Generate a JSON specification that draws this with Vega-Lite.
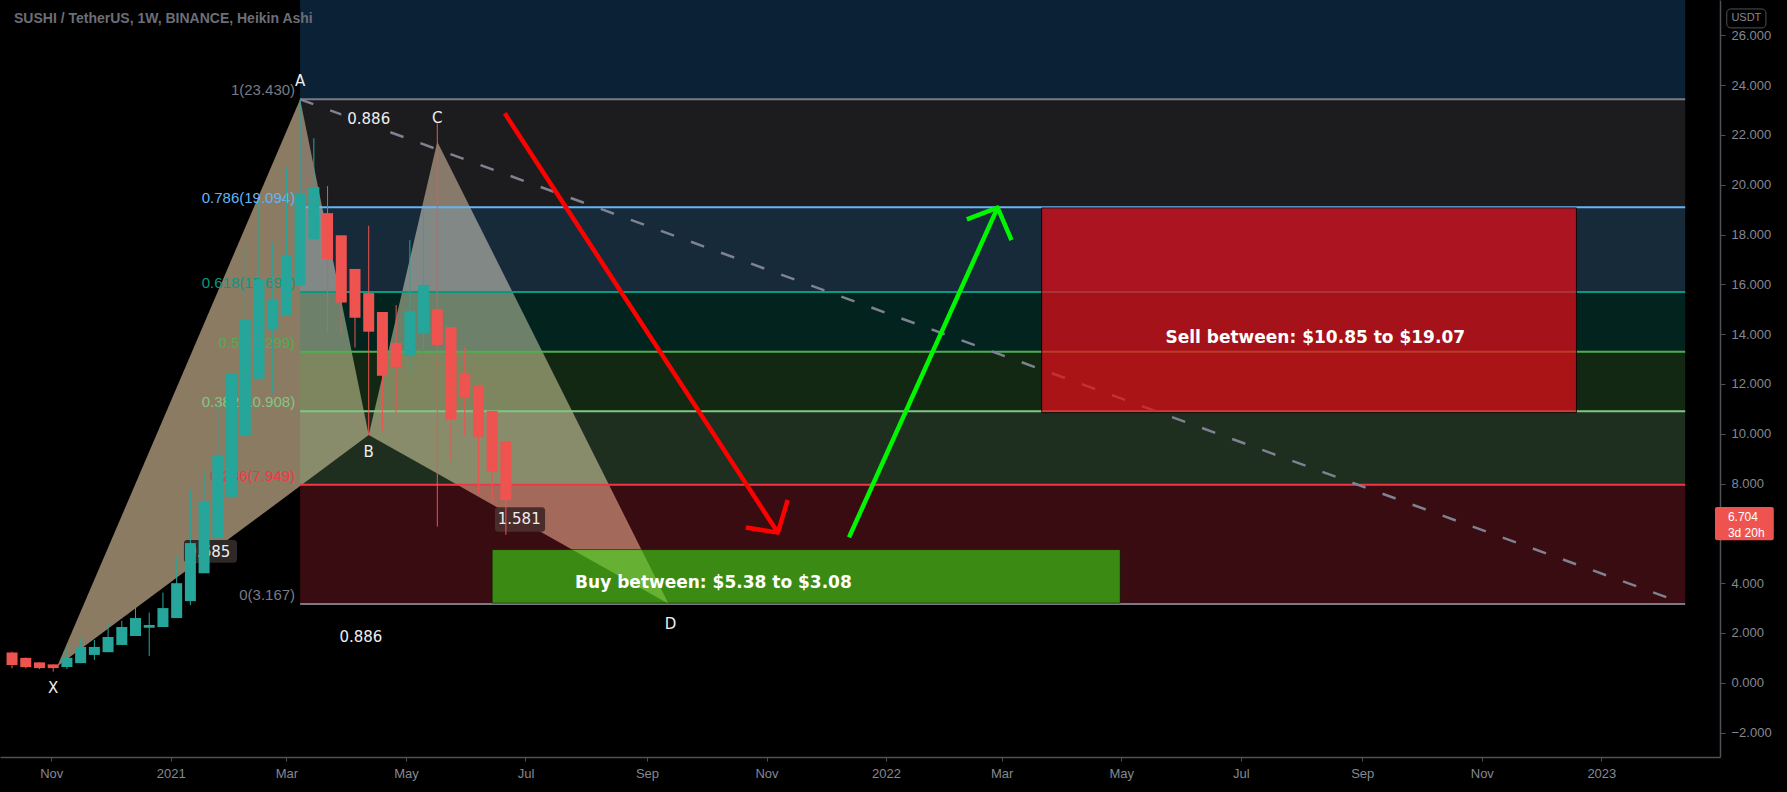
{
  "$schema": "https://vega.github.io/schema/vega-lite/v6.json",
  "width": 1720,
  "height": 757,
  "autosize": {"type": "none"},
  "padding": {"left": 0, "top": 0, "right": 67, "bottom": 35},
  "background": "#000000",
  "config": {
    "view": {"stroke": null},
    "axis": {"grid": false, "labelFont": "Liberation Sans", "labelFontSize": 13, "labelColor": "#858892", "domainColor": "#4f5058", "tickColor": "#4f5058"},
    "text": {"font": "Liberation Sans"}
  },
  "datasets": {
    "candles": [
      {"date": "2020-10-12", "open": 1.22, "close": 0.71, "high": 1.25, "low": 0.58},
      {"date": "2020-10-19", "open": 1.00, "close": 0.63, "high": 1.02, "low": 0.58},
      {"date": "2020-10-26", "open": 0.82, "close": 0.59, "high": 0.82, "low": 0.55},
      {"date": "2020-11-02", "open": 0.74, "close": 0.59, "high": 0.74, "low": 0.45},
      {"date": "2020-11-09", "open": 0.63, "close": 1.01, "high": 1.43, "low": 0.55},
      {"date": "2020-11-16", "open": 0.79, "close": 1.44, "high": 1.79, "low": 0.79},
      {"date": "2020-11-23", "open": 1.12, "close": 1.44, "high": 1.72, "low": 0.92},
      {"date": "2020-11-30", "open": 1.23, "close": 1.84, "high": 2.41, "low": 1.23},
      {"date": "2020-12-07", "open": 1.52, "close": 2.24, "high": 2.49, "low": 1.52},
      {"date": "2020-12-14", "open": 1.88, "close": 2.60, "high": 3.06, "low": 1.88},
      {"date": "2020-12-21", "open": 2.21, "close": 2.32, "high": 2.82, "low": 1.08},
      {"date": "2020-12-28", "open": 2.24, "close": 3.00, "high": 3.62, "low": 2.24},
      {"date": "2021-01-04", "open": 2.60, "close": 4.00, "high": 5.06, "low": 2.60},
      {"date": "2021-01-11", "open": 3.28, "close": 5.61, "high": 7.78, "low": 3.12},
      {"date": "2021-01-18", "open": 4.40, "close": 7.27, "high": 8.48, "low": 4.40},
      {"date": "2021-01-25", "open": 5.81, "close": 9.15, "high": 11.2, "low": 5.81},
      {"date": "2021-02-01", "open": 7.47, "close": 12.40, "high": 16.58, "low": 7.47},
      {"date": "2021-02-08", "open": 9.94, "close": 14.57, "high": 17.54, "low": 9.94},
      {"date": "2021-02-15", "open": 12.21, "close": 16.18, "high": 19.39, "low": 12.21},
      {"date": "2021-02-22", "open": 14.17, "close": 15.40, "high": 17.68, "low": 11.59},
      {"date": "2021-03-01", "open": 14.77, "close": 17.14, "high": 20.69, "low": 14.77},
      {"date": "2021-03-08", "open": 15.95, "close": 19.66, "high": 23.43, "low": 15.95},
      {"date": "2021-03-15", "open": 17.81, "close": 19.91, "high": 21.87, "low": 17.81},
      {"date": "2021-03-22", "open": 18.86, "close": 17.01, "high": 19.95, "low": 14.04},
      {"date": "2021-03-29", "open": 17.97, "close": 15.27, "high": 17.97, "low": 14.04},
      {"date": "2021-04-05", "open": 16.62, "close": 14.66, "high": 16.62, "low": 13.46},
      {"date": "2021-04-12", "open": 15.65, "close": 14.10, "high": 18.35, "low": 9.95},
      {"date": "2021-04-19", "open": 14.89, "close": 12.33, "high": 14.89, "low": 10.13},
      {"date": "2021-04-26", "open": 13.65, "close": 12.68, "high": 15.17, "low": 10.82},
      {"date": "2021-05-03", "open": 13.14, "close": 14.92, "high": 17.78, "low": 12.43},
      {"date": "2021-05-10", "open": 14.02, "close": 15.98, "high": 19.03, "low": 12.76},
      {"date": "2021-05-17", "open": 15.00, "close": 13.57, "high": 22.47, "low": 6.27},
      {"date": "2021-05-24", "open": 14.28, "close": 10.57, "high": 14.28, "low": 8.88},
      {"date": "2021-05-31", "open": 12.43, "close": 11.45, "high": 13.47, "low": 9.95},
      {"date": "2021-06-07", "open": 11.95, "close": 9.88, "high": 11.95, "low": 7.61},
      {"date": "2021-06-14", "open": 10.92, "close": 8.48, "high": 10.92, "low": 7.27},
      {"date": "2021-06-21", "open": 9.71, "close": 7.34, "high": 9.71, "low": 5.94}
    ],
    "fib": [
      {"level": "1", "price": 23.43, "lo": 19.094, "label": "1(23.430)", "start": "2021-03-08", "end": "2023-02-12T19:00:00Z"},
      {"level": "0.786", "price": 19.094, "lo": 15.69, "label": "0.786(19.094)", "start": "2021-03-08", "end": "2023-02-12T19:00:00Z"},
      {"level": "0.618", "price": 15.69, "lo": 13.299, "label": "0.618(15.690)", "start": "2021-03-08", "end": "2023-02-12T19:00:00Z"},
      {"level": "0.5", "price": 13.299, "lo": 10.908, "label": "0.5(13.299)", "start": "2021-03-08", "end": "2023-02-12T19:00:00Z"},
      {"level": "0.382", "price": 10.908, "lo": 7.949, "label": "0.382(10.908)", "start": "2021-03-08", "end": "2023-02-12T19:00:00Z"},
      {"level": "0.236", "price": 7.949, "lo": 3.167, "label": "0.236(7.949)", "start": "2021-03-08", "end": "2023-02-12T19:00:00Z"},
      {"level": "0", "price": 3.167, "lo": null, "label": "0(3.167)", "start": "2021-03-08", "end": "2023-02-12T19:00:00Z"}
    ],
    "pattern": [
      {"tri": "XAB", "date": "2020-11-04", "top": 0.65, "bottom": 0.65},
      {"tri": "XAB", "date": "2021-03-08", "top": 23.43, "bottom": 7.90},
      {"tri": "XAB", "date": "2021-04-12", "top": 9.95, "bottom": 9.95},
      {"tri": "BCD", "date": "2021-04-12", "top": 9.95, "bottom": 9.95},
      {"tri": "BCD", "date": "2021-05-17", "top": 21.73, "bottom": 8.40},
      {"tri": "BCD", "date": "2021-09-12", "top": 3.17, "bottom": 3.17}
    ],
    "boxes": [
      {"box": "t886", "start": "2021-03-29T00:00:00Z", "end": "2021-04-25T08:00:00Z", "lo": 22.2, "hi": 23.08},
      {"box": "r685", "start": "2021-01-07T17:00:00Z", "end": "2021-02-03T19:00:00Z", "lo": 4.82, "hi": 5.73},
      {"box": "r1581", "start": "2021-06-15T10:00:00Z", "end": "2021-07-11T00:00:00Z", "lo": 6.07, "hi": 7.05}
    ],
    "plabels": [
      {"text": "X", "date": "2020-11-02", "price": -0.22},
      {"text": "A", "date": "2021-03-08", "price": 24.17},
      {"text": "B", "date": "2021-04-12", "price": 9.28},
      {"text": "C", "date": "2021-05-17", "price": 22.67},
      {"text": "D", "date": "2021-09-13", "price": 2.36},
      {"text": "0.886", "date": "2021-04-12", "price": 22.64},
      {"text": "0.886", "date": "2021-04-08", "price": 1.84},
      {"text": "0.685", "date": "2021-01-20T10:00:00Z", "price": 5.27},
      {"text": "1.581", "date": "2021-06-27T19:00:00Z", "price": 6.58}
    ],
    "arrows": [
      {"arrow": "down", "part": "shaft", "seq": 1, "date": "2021-06-20T10:00:00Z", "price": 22.87},
      {"arrow": "down", "part": "shaft", "seq": 2, "date": "2021-11-06T19:00:00Z", "price": 6.03},
      {"arrow": "down", "part": "head", "seq": 1, "date": "2021-10-21T10:00:00Z", "price": 6.24},
      {"arrow": "down", "part": "head", "seq": 2, "date": "2021-11-06T19:00:00Z", "price": 6.03},
      {"arrow": "down", "part": "head", "seq": 3, "date": "2021-11-11T19:00:00Z", "price": 7.34},
      {"arrow": "up", "part": "shaft", "seq": 1, "date": "2021-12-13T02:00:00Z", "price": 5.84},
      {"arrow": "up", "part": "shaft", "seq": 2, "date": "2022-02-26T22:00:00Z", "price": 19.08},
      {"arrow": "up", "part": "head", "seq": 1, "date": "2022-02-11T05:00:00Z", "price": 18.61},
      {"arrow": "up", "part": "head", "seq": 2, "date": "2022-02-26T22:00:00Z", "price": 19.08},
      {"arrow": "up", "part": "head", "seq": 3, "date": "2022-03-06T00:00:00Z", "price": 17.78}
    ]
  },
  "layer": [
    {
      "data": {"values": [{"start": "2021-03-08", "end": "2023-02-12T19:00:00Z", "lo": 23.43, "hi": 28.94}]},
      "mark": {"type": "rect", "color": "#0a2136", "clip": true},
      "encoding": {
        "x": {
          "field": "start", "type": "temporal", "title": null,
          "scale": {"type": "utc", "domain": [{"year": 2020, "month": 10, "date": 8, "hours": 9, "minutes": 36, "utc": true}, {"year": 2023, "month": 2, "date": 28, "utc": true}]},
          "axis": {
            "orient": "bottom",
            "values": [
              {"year": 2020, "month": 11, "date": 1, "utc": true},
              {"year": 2021, "month": 1, "date": 1, "utc": true},
              {"year": 2021, "month": 3, "date": 1, "utc": true},
              {"year": 2021, "month": 5, "date": 1, "utc": true},
              {"year": 2021, "month": 7, "date": 1, "utc": true},
              {"year": 2021, "month": 9, "date": 1, "utc": true},
              {"year": 2021, "month": 11, "date": 1, "utc": true},
              {"year": 2022, "month": 1, "date": 1, "utc": true},
              {"year": 2022, "month": 3, "date": 1, "utc": true},
              {"year": 2022, "month": 5, "date": 1, "utc": true},
              {"year": 2022, "month": 7, "date": 1, "utc": true},
              {"year": 2022, "month": 9, "date": 1, "utc": true},
              {"year": 2022, "month": 11, "date": 1, "utc": true},
              {"year": 2023, "month": 1, "date": 1, "utc": true}
            ],
            "labelExpr": "utcmonth(datum.value) == 0 ? utcFormat(datum.value, '%Y') : utcFormat(datum.value, '%b')",
            "tickSize": 4, "labelPadding": 6, "labelOverlap": false, "labelFlush": false, "domainWidth": 1.5
          }
        },
        "x2": {"field": "end", "title": null},
        "y": {
          "field": "lo", "type": "quantitative", "title": null,
          "scale": {"domain": [-2.98, 27.42], "nice": false, "zero": false},
          "axis": {"orient": "right", "values": [-2, 0, 2, 4, 8, 10, 12, 14, 16, 18, 20, 22, 24, 26], "format": ".3f", "tickSize": 5, "labelPadding": 6, "labelFlush": false, "domainWidth": 1.5}
        },
        "y2": {"field": "hi", "title": null}
      }
    },
    {
      "data": {"name": "pattern"},
      "mark": {"type": "area", "color": "#8c7b63"},
      "encoding": {
        "x": {"field": "date", "type": "temporal", "title": null},
        "y": {"field": "top", "type": "quantitative", "stack": null, "title": null},
        "y2": {"field": "bottom", "title": null},
        "detail": {"field": "tri", "type": "nominal"}
      }
    },
    {
      "data": {"name": "fib"},
      "transform": [{"filter": "datum.lo != null"}],
      "mark": {"type": "rect", "fillOpacity": 0.23},
      "encoding": {
        "x": {"field": "start", "type": "temporal", "title": null},
        "x2": {"field": "end", "title": null},
        "y": {"field": "lo", "type": "quantitative", "title": null},
        "y2": {"field": "price", "title": null},
        "color": {"field": "level", "type": "nominal", "legend": null,
          "scale": {"domain": ["1", "0.786", "0.618", "0.5", "0.382", "0.236", "0"], "range": ["#787b86", "#64b5f6", "#089981", "#4caf50", "#81c784", "#f23645", "#787b86"]}}
      }
    },
    {
      "data": {"name": "fib"},
      "mark": {"type": "rule", "strokeWidth": 2},
      "encoding": {
        "x": {"field": "start", "type": "temporal", "title": null},
        "x2": {"field": "end", "title": null},
        "y": {"field": "price", "type": "quantitative", "title": null},
        "color": {"field": "level", "type": "nominal", "legend": null}
      }
    },
    {
      "data": {"name": "fib"},
      "mark": {"type": "text", "align": "right", "baseline": "alphabetic", "dx": -5, "dy": -4, "fontSize": 15},
      "encoding": {
        "x": {"field": "start", "type": "temporal", "title": null},
        "y": {"field": "price", "type": "quantitative", "title": null},
        "text": {"field": "label"},
        "color": {"field": "level", "type": "nominal", "legend": null}
      }
    },
    {
      "data": {"values": [{"date": "2021-03-08", "price": 23.43}, {"date": "2023-02-08", "price": 3.3}]},
      "mark": {"type": "line", "color": "#7f8290", "strokeWidth": 2.5, "strokeDash": [14, 18]},
      "encoding": {
        "x": {"field": "date", "type": "temporal", "title": null},
        "y": {"field": "price", "type": "quantitative", "title": null}
      }
    },
    {
      "data": {"name": "boxes"},
      "mark": {"type": "rect", "cornerRadius": 3},
      "encoding": {
        "x": {"field": "start", "type": "temporal", "title": null},
        "x2": {"field": "end", "title": null},
        "y": {"field": "lo", "type": "quantitative", "title": null},
        "y2": {"field": "hi", "title": null},
        "fill": {"field": "box", "type": "nominal", "legend": null,
          "scale": {"domain": ["t886", "r685", "r1581"], "range": ["#1c1c1f", "#2e2926", "#4a2d2a"]}}
      }
    },
    {
      "data": {"name": "plabels"},
      "mark": {"type": "text", "color": "#eeeeee", "font": "DejaVu Sans", "fontSize": 15, "align": "center", "baseline": "middle"},
      "encoding": {
        "x": {"field": "date", "type": "temporal", "title": null},
        "y": {"field": "price", "type": "quantitative", "title": null},
        "text": {"field": "text"}
      }
    },
    {
      "data": {"name": "candles"},
      "mark": {"type": "rule", "strokeWidth": 1},
      "encoding": {
        "x": {"field": "date", "type": "temporal", "title": null},
        "y": {"field": "low", "type": "quantitative", "title": null},
        "y2": {"field": "high", "title": null},
        "color": {"condition": {"test": "datum.close >= datum.open", "value": "#26a69a"}, "value": "#ef5350"}
      }
    },
    {
      "data": {"name": "candles"},
      "mark": {"type": "bar", "width": 11},
      "encoding": {
        "x": {"field": "date", "type": "temporal", "title": null},
        "y": {"field": "open", "type": "quantitative", "title": null},
        "y2": {"field": "close", "title": null},
        "color": {"condition": {"test": "datum.close >= datum.open", "value": "#26a69a"}, "value": "#ef5350"}
      }
    },
    {
      "data": {"values": [{"start": "2021-06-14", "end": "2022-04-30T12:00:00Z", "lo": 3.2, "hi": 5.35}]},
      "mark": {"type": "rect", "fill": "#3de018", "fillOpacity": 0.6, "stroke": "#000000", "strokeOpacity": 0.5, "strokeWidth": 1},
      "encoding": {
        "x": {"field": "start", "type": "temporal", "title": null},
        "x2": {"field": "end", "title": null},
        "y": {"field": "lo", "type": "quantitative", "title": null},
        "y2": {"field": "hi", "title": null}
      }
    },
    {
      "data": {"values": [{"start": "2022-03-21T10:00:00Z", "end": "2022-12-19T07:00:00Z", "lo": 10.85, "hi": 19.07}]},
      "mark": {"type": "rect", "fill": "#e60c19", "fillOpacity": 0.72, "stroke": "#000000", "strokeOpacity": 0.8, "strokeWidth": 1},
      "encoding": {
        "x": {"field": "start", "type": "temporal", "title": null},
        "x2": {"field": "end", "title": null},
        "y": {"field": "lo", "type": "quantitative", "title": null},
        "y2": {"field": "hi", "title": null}
      }
    },
    {
      "data": {"values": [
        {"text": "Buy between: $5.38 to $3.08", "date": "2021-10-04T22:00:00Z", "price": 3.99},
        {"text": "Sell between: $10.85 to $19.07", "date": "2022-08-08T00:00:00Z", "price": 13.83}
      ]},
      "mark": {"type": "text", "color": "#ffffff", "font": "DejaVu Sans", "fontSize": 17, "fontWeight": "bold", "align": "center", "baseline": "middle"},
      "encoding": {
        "x": {"field": "date", "type": "temporal", "title": null},
        "y": {"field": "price", "type": "quantitative", "title": null},
        "text": {"field": "text"}
      }
    },
    {
      "data": {"name": "arrows"},
      "transform": [{"filter": "datum.arrow == 'down'"}],
      "mark": {"type": "line", "color": "#ff0000", "strokeWidth": 4.5, "strokeJoin": "round"},
      "encoding": {
        "x": {"field": "date", "type": "temporal", "title": null},
        "y": {"field": "price", "type": "quantitative", "title": null},
        "detail": {"field": "part", "type": "nominal"},
        "order": {"field": "seq", "type": "quantitative"}
      }
    },
    {
      "data": {"name": "arrows"},
      "transform": [{"filter": "datum.arrow == 'up'"}],
      "mark": {"type": "line", "color": "#00f700", "strokeWidth": 4.5, "strokeJoin": "round"},
      "encoding": {
        "x": {"field": "date", "type": "temporal", "title": null},
        "y": {"field": "price", "type": "quantitative", "title": null},
        "detail": {"field": "part", "type": "nominal"},
        "order": {"field": "seq", "type": "quantitative"}
      }
    },
    {
      "data": {"values": [{"text": "SUSHI / TetherUS, 1W, BINANCE, Heikin Ashi", "date": "2020-10-13", "price": 26.64}]},
      "mark": {"type": "text", "color": "#6b6e78", "fontSize": 14, "fontWeight": "bold", "align": "left", "baseline": "middle"},
      "encoding": {
        "x": {"field": "date", "type": "temporal", "title": null},
        "y": {"field": "price", "type": "quantitative", "title": null},
        "text": {"field": "text"}
      }
    },
    {
      "data": {"values": [{"start": "2023-02-28", "end": "2023-03-30", "lo": 5.72, "hi": 7.06}]},
      "mark": {"type": "rect", "fill": "#ef5350", "cornerRadius": 2, "clip": false},
      "encoding": {
        "x": {"field": "start", "type": "temporal", "title": null},
        "x2": {"field": "end", "title": null},
        "y": {"field": "lo", "type": "quantitative", "title": null},
        "y2": {"field": "hi", "title": null}
      }
    },
    {
      "data": {"values": [
        {"text": "6.704", "date": "2023-03-06T14:00:00Z", "price": 6.66},
        {"text": "3d 20h", "date": "2023-03-06T14:00:00Z", "price": 6.02}
      ]},
      "mark": {"type": "text", "color": "#ffffff", "fontSize": 12, "align": "left", "baseline": "middle", "clip": false},
      "encoding": {
        "x": {"field": "date", "type": "temporal", "title": null},
        "y": {"field": "price", "type": "quantitative", "title": null},
        "text": {"field": "text"},
        "fontWeight": {"condition": {"test": "datum.text == '6.704'", "value": "bold"}, "value": "normal"}
      }
    },
    {
      "data": {"values": [{"start": "2023-03-06", "end": "2023-03-26", "lo": 26.3, "hi": 27.06}]},
      "mark": {"type": "rect", "fill": "#000000", "stroke": "#4f5058", "strokeWidth": 1, "cornerRadius": 4, "clip": false},
      "encoding": {
        "x": {"field": "start", "type": "temporal", "title": null},
        "x2": {"field": "end", "title": null},
        "y": {"field": "lo", "type": "quantitative", "title": null},
        "y2": {"field": "hi", "title": null}
      }
    },
    {
      "data": {"values": [{"text": "USDT", "date": "2023-03-16", "price": 26.68}]},
      "mark": {"type": "text", "color": "#858892", "fontSize": 11, "align": "center", "baseline": "middle", "clip": false},
      "encoding": {
        "x": {"field": "date", "type": "temporal", "title": null},
        "y": {"field": "price", "type": "quantitative", "title": null},
        "text": {"field": "text"}
      }
    }
  ]
}
